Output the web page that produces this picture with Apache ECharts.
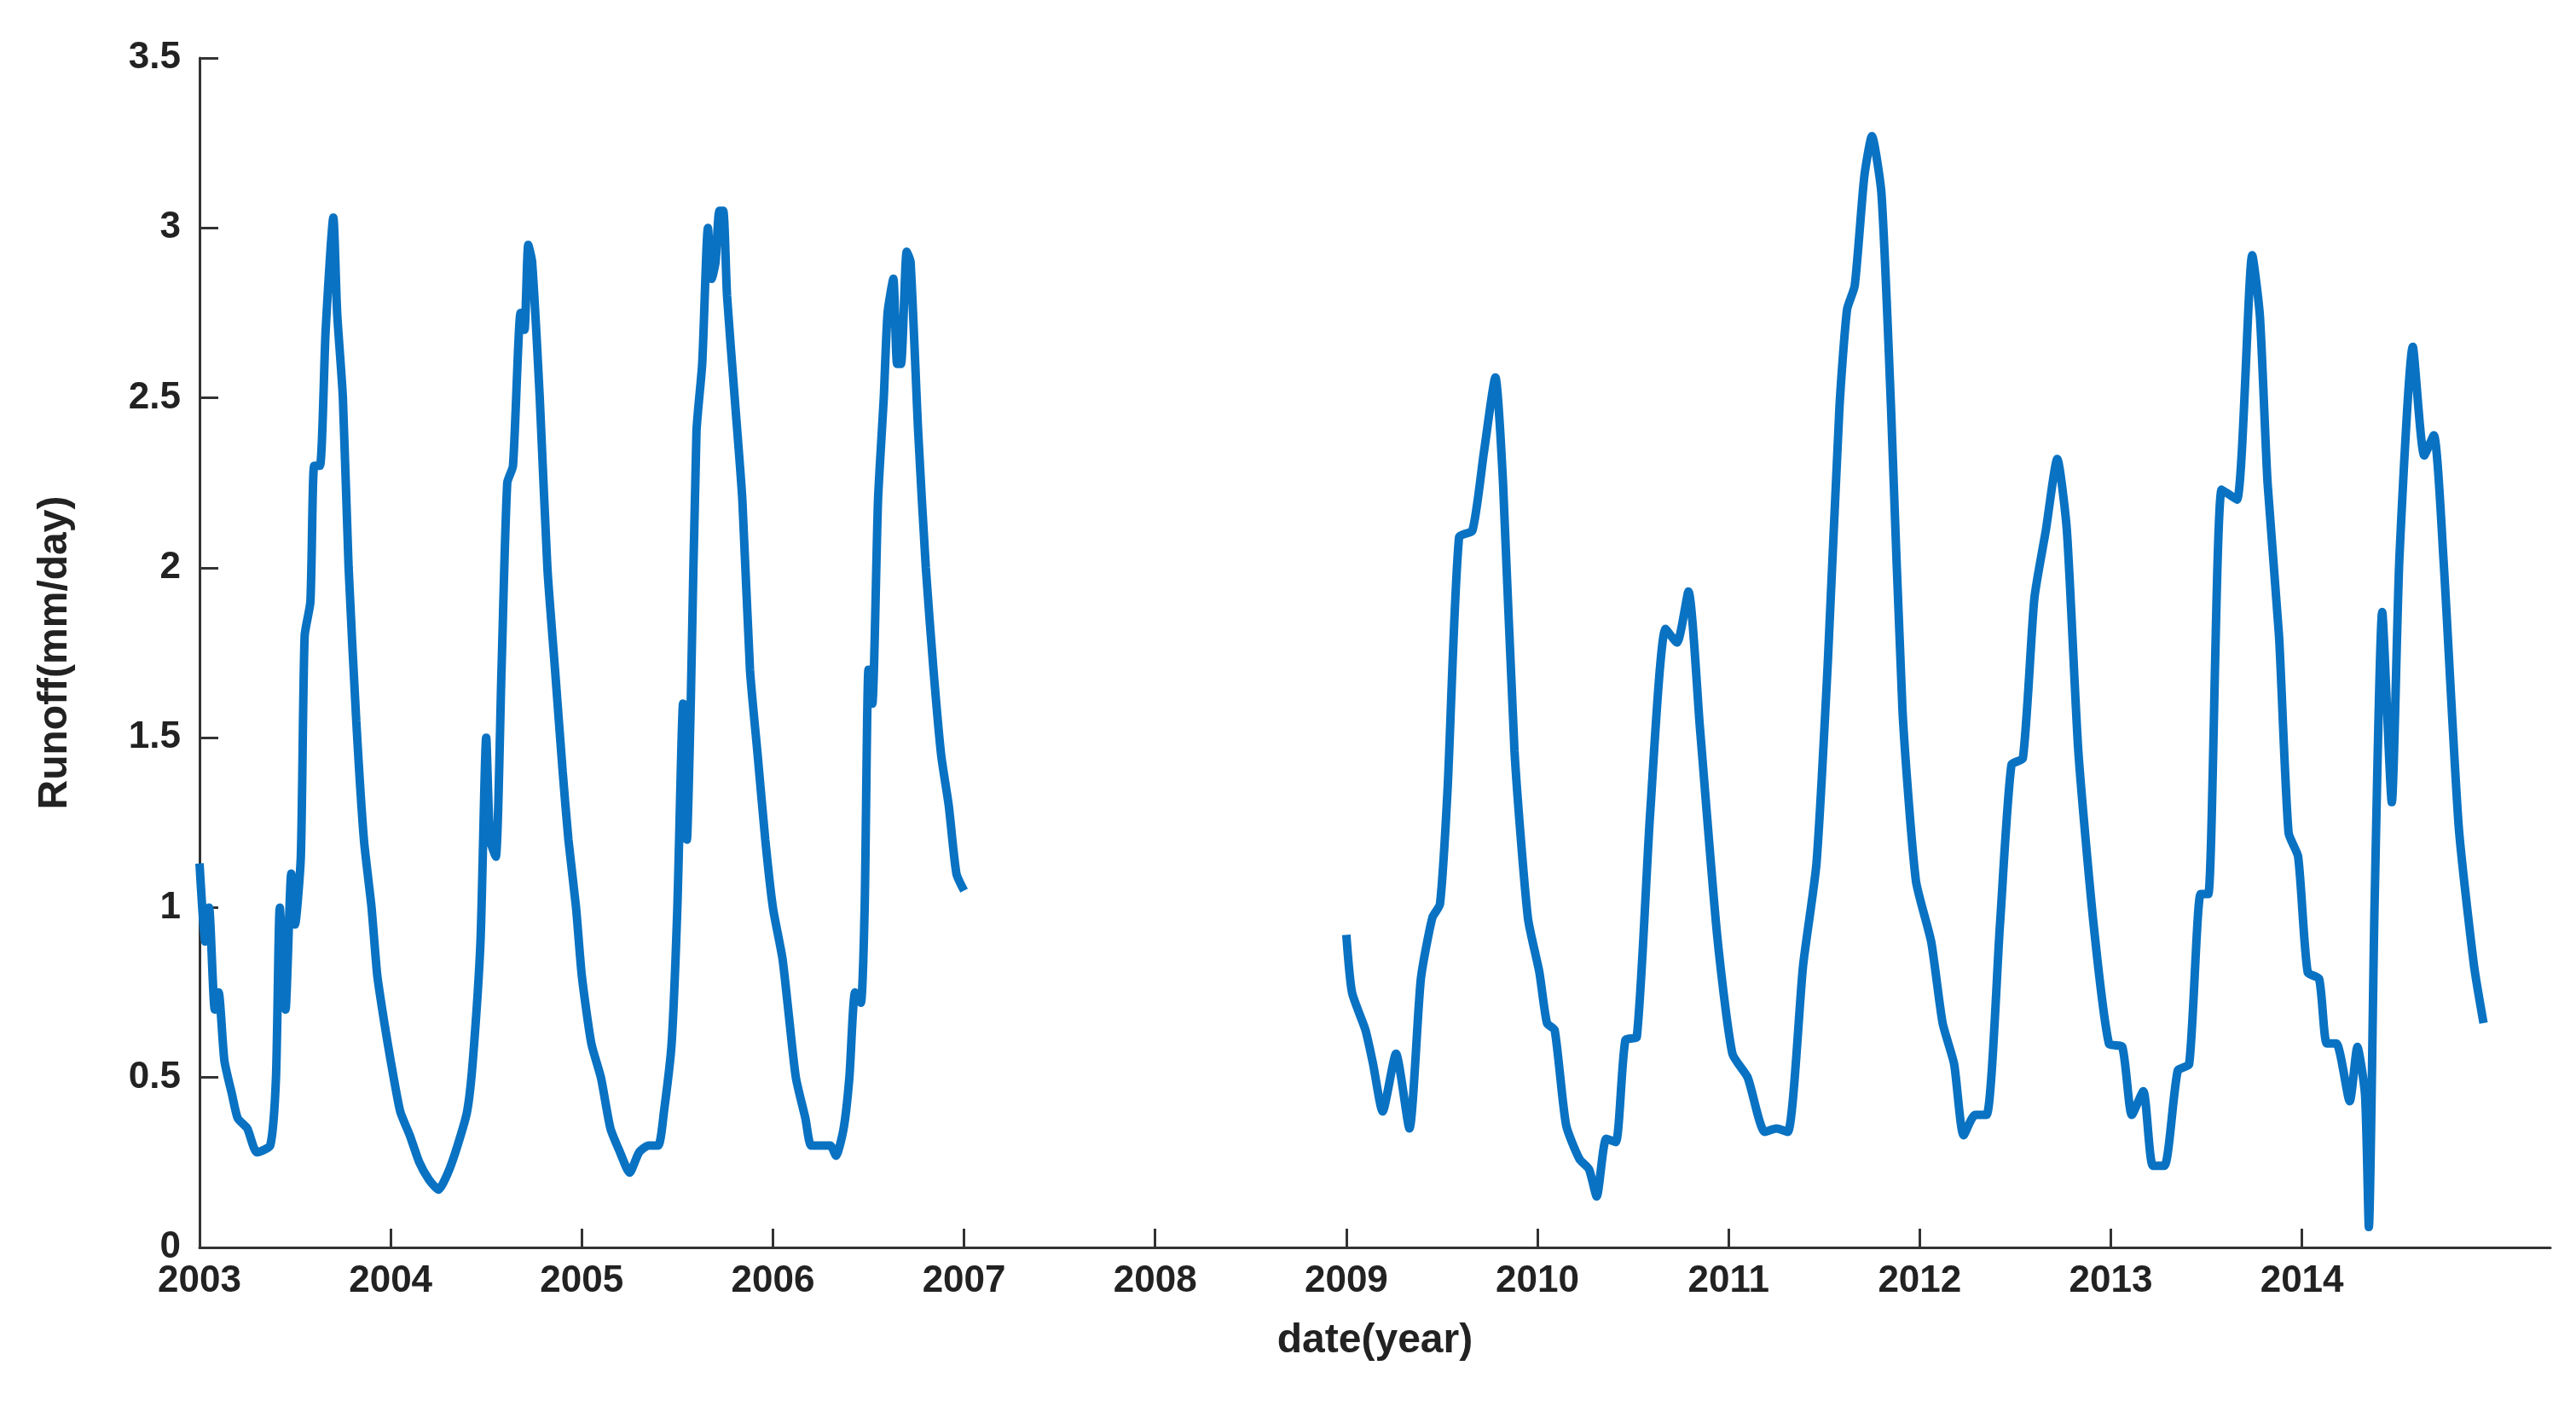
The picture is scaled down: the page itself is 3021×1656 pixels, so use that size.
<!DOCTYPE html>
<html>
<head>
<meta charset="utf-8">
<script src="https://cdn.jsdelivr.net/npm/echarts@6/dist/echarts.min.js"></script>
<style>html,body{margin:0;padding:0;background:#fff}#main{width:3021px;height:1656px}</style>
</head>
<body>
<div id="main"></div>
<script>
// 数据：年份(小数) 与 径流值
var years1 = [2003.0,2003.03,2003.05,2003.08,2003.1,2003.13,2003.17,2003.2,2003.25,2003.3,2003.37,2003.4,2003.42,2003.45,2003.48,2003.5,2003.53,2003.55,2003.58,2003.6,2003.63,2003.66,2003.7,2003.72,2003.75,2003.78,2003.82,2003.86,2003.9,2003.93,2003.97,
  2004.0,2004.05,2004.1,2004.15,2004.2,2004.25,2004.3,2004.35,2004.4,2004.43,2004.47,2004.5,2004.52,2004.55,2004.58,2004.61,2004.64,2004.68,2004.7,2004.72,2004.74,2004.78,2004.82,2004.86,2004.9,2004.93,2004.97,
  2005.0,2005.05,2005.1,2005.15,2005.2,2005.25,2005.3,2005.35,2005.4,2005.43,2005.47,2005.5,2005.53,2005.55,2005.57,2005.6,2005.63,2005.66,2005.68,2005.7,2005.72,2005.74,2005.76,2005.8,2005.84,2005.88,2005.92,2005.96,
  2006.0,2006.05,2006.08,2006.12,2006.17,2006.2,2006.25,2006.3,2006.33,2006.37,2006.4,2006.43,2006.46,2006.48,2006.5,2006.52,2006.55,2006.58,2006.6,2006.63,2006.65,2006.67,2006.7,2006.72,2006.76,2006.8,2006.84,2006.88,2006.92,2006.96,2007.0];
var runoff1 = [1.13,0.9,1.0,0.7,0.75,0.55,0.45,0.38,0.35,0.28,0.3,0.5,1.0,0.7,1.1,0.95,1.15,1.8,1.9,2.3,2.3,2.7,3.03,2.75,2.5,2.0,1.55,1.2,1.0,0.8,0.65,
  0.55,0.4,0.33,0.25,0.2,0.17,0.22,0.3,0.4,0.55,0.9,1.5,1.2,1.15,1.7,2.25,2.3,2.75,2.7,2.95,2.9,2.5,2.0,1.7,1.4,1.2,1.0,
  0.8,0.6,0.5,0.35,0.28,0.22,0.28,0.3,0.3,0.4,0.6,1.0,1.6,1.2,1.6,2.4,2.6,3.0,2.85,2.9,3.05,3.05,2.8,2.5,2.2,1.7,1.45,1.2,
  1.0,0.85,0.7,0.5,0.38,0.3,0.3,0.3,0.27,0.35,0.5,0.75,0.72,1.0,1.7,1.6,2.2,2.5,2.75,2.85,2.6,2.6,2.93,2.9,2.4,2.0,1.7,1.45,1.3,1.1,1.05];
var years2 = [2009.0,2009.03,2009.1,2009.14,2009.19,2009.26,2009.33,2009.39,2009.45,2009.49,2009.53,2009.59,2009.66,2009.72,2009.78,2009.82,2009.88,2009.95,
  2010.01,2010.05,2010.09,2010.15,2010.22,2010.27,2010.31,2010.36,2010.41,2010.46,2010.52,2010.59,2010.67,2010.73,2010.79,2010.85,2010.94,
  2011.02,2011.1,2011.19,2011.25,2011.31,2011.39,2011.46,2011.52,2011.58,2011.62,2011.66,2011.71,2011.75,2011.8,2011.85,2011.91,2011.98,
  2012.06,2012.12,2012.18,2012.23,2012.29,2012.35,2012.42,2012.48,2012.54,2012.6,2012.66,2012.72,2012.77,2012.83,2012.91,2012.99,
  2013.06,2013.11,2013.17,2013.22,2013.28,2013.35,2013.41,2013.47,2013.51,2013.58,2013.66,2013.74,2013.78,2013.82,2013.88,2013.93,2013.98,
  2014.03,2014.09,2014.13,2014.18,2014.25,2014.29,2014.33,2014.35,2014.38,2014.42,2014.47,2014.51,2014.58,2014.64,2014.69,2014.74,2014.82,2014.9,2014.95];
var runoff2 = [0.92,0.75,0.64,0.54,0.4,0.57,0.35,0.79,0.97,1.01,1.35,2.09,2.11,2.34,2.56,2.25,1.46,0.97,
  0.81,0.66,0.64,0.36,0.26,0.23,0.15,0.32,0.31,0.61,0.62,1.28,1.82,1.78,1.93,1.53,0.92,
  0.57,0.5,0.34,0.35,0.34,0.83,1.13,1.73,2.47,2.76,2.83,3.15,3.27,3.1,2.47,1.58,1.08,
  0.9,0.66,0.54,0.33,0.39,0.39,0.95,1.42,1.44,1.91,2.11,2.32,2.11,1.46,0.95,0.6,
  0.59,0.39,0.46,0.24,0.24,0.52,0.54,1.04,1.04,2.23,2.2,2.92,2.74,2.25,1.8,1.22,1.15,
  0.81,0.79,0.6,0.6,0.43,0.59,0.45,0.06,1.01,1.87,1.31,2.03,2.65,2.33,2.39,2.03,1.24,0.83,0.66];
var yearTicks = [2003,2004,2005,2006,2007,2008,2009,2010,2011,2012,2013,2014];

var seriesData = [];
for (var i = 0; i < years1.length; i++) seriesData.push([years1[i], runoff1[i]]);
seriesData.push([2008, null]);
for (var j = 0; j < years2.length; j++) seriesData.push([years2[j], runoff2[j]]);

var myChart = echarts.init(document.getElementById('main'));
var labelFont = {color: '#222', fontSize: 44, fontWeight: 'bold', fontFamily: 'Liberation Sans'};
option = {
    animation: false,
    grid: {left: 234, right: 30, top: 68, bottom: 193},
    xAxis: {
        type: 'value', min: 2003, max: 2015.3,
        name: 'date(year)', nameLocation: 'middle', nameGap: 86,
        nameTextStyle: {color: '#222', fontSize: 48, fontWeight: 'bold', fontFamily: 'Liberation Sans'},
        axisLine: {lineStyle: {color: '#333', width: 3}},
        axisTick: {inside: true, length: 22, lineStyle: {color: '#333', width: 3}, customValues: yearTicks},
        axisLabel: Object.assign({margin: 18, customValues: yearTicks, formatter: function (v) { return String(v); }}, labelFont),
        splitLine: {show: false}
    },
    yAxis: {
        type: 'value', min: 0, max: 3.5, interval: 0.5,
        name: 'Runoff(mm/day)', nameLocation: 'middle', nameGap: 145,
        nameTextStyle: {color: '#222', fontSize: 48, fontWeight: 'bold', fontFamily: 'Liberation Sans'},
        axisLine: {show: true, lineStyle: {color: '#333', width: 3}},
        axisTick: {show: true, inside: true, length: 22, lineStyle: {color: '#333', width: 3}},
        axisLabel: Object.assign({margin: 22}, labelFont),
        splitLine: {show: false}
    },
    series: [{
        type: 'line', data: seriesData, showSymbol: false, connectNulls: false, smooth: 0.2,
        lineStyle: {color: '#0a72c2', width: 10}
    }]
};
myChart.setOption(option);
</script>
</body>
</html>
